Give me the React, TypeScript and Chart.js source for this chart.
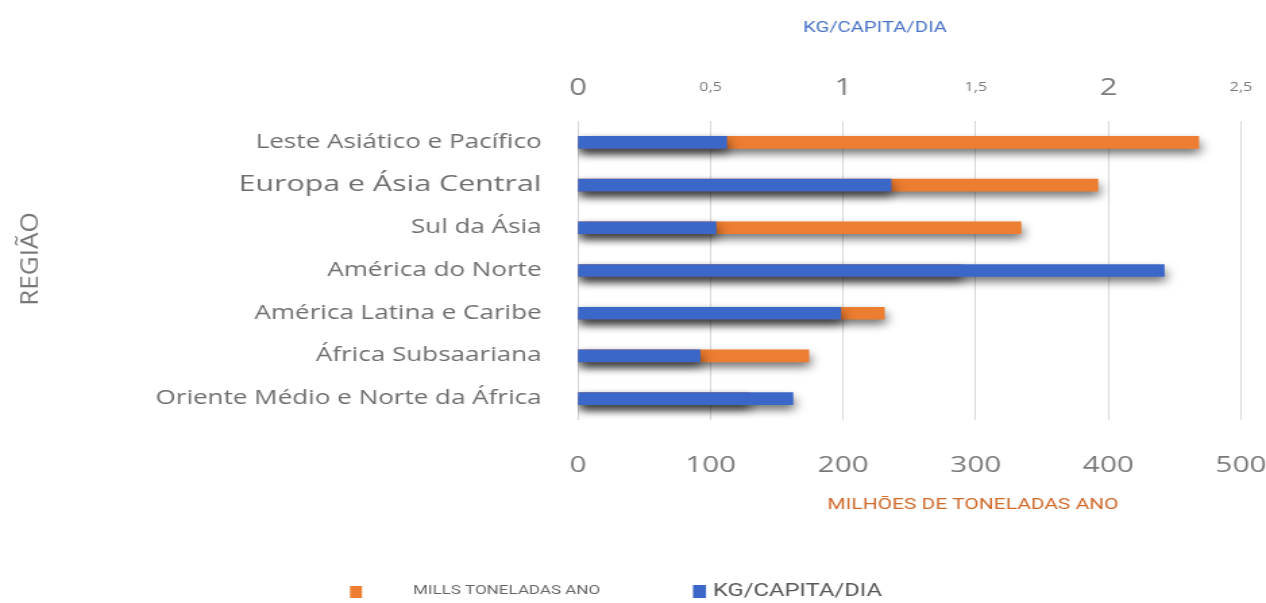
import React, { useEffect, useRef } from "react";
import { Chart, registerables } from "chart.js";

Chart.register(...registerables);

const categories = [
  "Leste Asiático e Pacífico",
  "Europa e Ásia Central",
  "Sul da Ásia",
  "América do Norte",
  "América Latina e Caribe",
  "África Subsaariana",
  "Oriente Médio e Norte da África",
];
const millionTonnesYear = [468, 392, 334, 289, 231, 174, 129];
const kgPerCapitaDay = [0.56, 1.18, 0.52, 2.21, 0.99, 0.46, 0.81];

const bottomAxisTitle = "MILHÕES DE TONELADAS ANO";
const topAxisTitle = "KG/CAPITA/DIA";
const yAxisTitle = "REGIÃO";
const legendOrange = "MILLS TONELADAS ANO";
const legendBlue = "KG/CAPITA/DIA";

const ORANGE = "#ED7D31";
const BLUE = "#3B67C9";
const FONT = "'Open Sans', sans-serif";

// the reference text is horizontally wide: draw on a narrower canvas, shown stretched
const VIEW_W = 1266;
const VIEW_H = 603;
const CANVAS_W = 938;
const S = VIEW_W / CANVAS_W;
const sx = (x: number) => x / S;

const shadowPlugin = {
  id: "barShadow",
  beforeDatasetsDraw(chart: any) {
    const ctx = chart.ctx;
    ctx.save();
    ctx.shadowColor = "rgba(0,0,0,0.55)";
    ctx.shadowBlur = 8;
    ctx.shadowOffsetX = 1;
    ctx.shadowOffsetY = 5;
  },
  afterDatasetsDraw(chart: any) {
    chart.ctx.restore();
  },
};

const textPlugin = {
  id: "customText",
  afterDraw(chart: any) {
    const ctx = chart.ctx;
    ctx.save();
    ctx.textAlign = "center";
    ctx.textBaseline = "middle";
    // top axis title
    ctx.fillStyle = "#4A74C8";
    ctx.font = "15px Roboto, sans-serif";
    ctx.fillText(topAxisTitle, sx(875), 28);
    // bottom axis title
    ctx.fillStyle = "#D0692A";
    ctx.font = "15.5px Roboto, sans-serif";
    ctx.fillText(bottomAxisTitle, sx(973), 505);
    // y title
    ctx.save();
    ctx.translate(sx(31), 259);
    ctx.rotate(-Math.PI / 2);
    ctx.scale(1.45, 1);
    ctx.fillStyle = "#777777";
    ctx.font = `18px ${FONT}`;
    ctx.fillText(yAxisTitle, 0, 0);
    ctx.restore();
    // legend
    ctx.fillStyle = ORANGE;
    ctx.fillRect(sx(350), 586, sx(12), 12);
    ctx.fillStyle = "#666666";
    ctx.textAlign = "left";
    ctx.font = "12.6px Roboto, sans-serif";
    ctx.fillText(legendOrange, sx(413), 591);
    ctx.fillStyle = BLUE;
    ctx.fillRect(sx(693), 585, sx(13), 13);
    ctx.fillStyle = "#555555";
    ctx.font = "17.6px Roboto, sans-serif";
    ctx.fillText(legendBlue, sx(713), 592);
    ctx.restore();
  },
};

export default function App() {
  const ref = useRef<HTMLCanvasElement>(null);
  useEffect(() => {
    if (!ref.current) return;
    const chart = new Chart(ref.current, {
      type: "bar",
      data: {
        labels: categories,
        datasets: [
          {
            label: legendOrange,
            data: millionTonnesYear,
            backgroundColor: ORANGE,
            xAxisID: "x",
            grouped: false,
            barThickness: 12,
            order: 2,
          } as any,
          {
            label: legendBlue,
            data: kgPerCapitaDay,
            backgroundColor: BLUE,
            xAxisID: "x2",
            grouped: false,
            barThickness: 12,
            order: 1,
          } as any,
        ],
      },
      options: {
        indexAxis: "y",
        animation: false,
        responsive: false,
        maintainAspectRatio: false,
        devicePixelRatio: 1,
        layout: { padding: { left: 0, right: CANVAS_W - sx(1241), top: 0, bottom: 0 } },
        plugins: {
          legend: { display: false },
          tooltip: { enabled: false },
        },
        scales: {
          x: {
            position: "bottom",
            min: 0,
            max: 500,
            ticks: {
              stepSize: 100,
              color: "#7a7a7a",
              font: { family: FONT, size: 22 },
              padding: 33,
            },
            grid: { color: "#d9d9d9", drawTicks: false, lineWidth: 1 },
            border: { display: false },
            afterFit: (s: any) => {
              s.height = 183;
              s.paddingLeft = 0;
              s.paddingRight = 0;
            },
          },
          x2: {
            position: "top",
            min: 0,
            max: 2.5,
            ticks: {
              stepSize: 0.5,
              color: "#7a7a7a",
              font: (c: any) => ({
                family: FONT,
                size: c.tick && Number.isInteger(c.tick.value) ? 23 : 12,
                lineHeight: "26px",
              }),
              callback: (v: any) => String(v).replace(".", ","),
              padding: 20,
            },
            grid: { display: false, drawTicks: false },
            border: { display: false },
            afterFit: (s: any) => {
              s.height = 121;
              s.paddingLeft = 0;
              s.paddingRight = 0;
            },
          },
          y: {
            ticks: {
              color: "#6e6e6e",
              font: (c: any) => ({ family: FONT, size: c.index === 1 ? 22.5 : 19.3 }),
              padding: 27,
            },
            grid: { display: false, drawTicks: false },
            border: { display: false },
            afterFit: (s: any) => {
              s.width = sx(578);
            },
          },
        },
      },
      plugins: [shadowPlugin, textPlugin],
    });
    return () => chart.destroy();
  }, []);
  return (
    <div style={{ position: "fixed", left: 0, top: 0, width: VIEW_W, height: VIEW_H, background: "#fff" }}>
      <canvas
        ref={ref}
        width={CANVAS_W}
        height={VIEW_H}
        style={{ width: VIEW_W, height: VIEW_H, display: "block" }}
      />
    </div>
  );
}
